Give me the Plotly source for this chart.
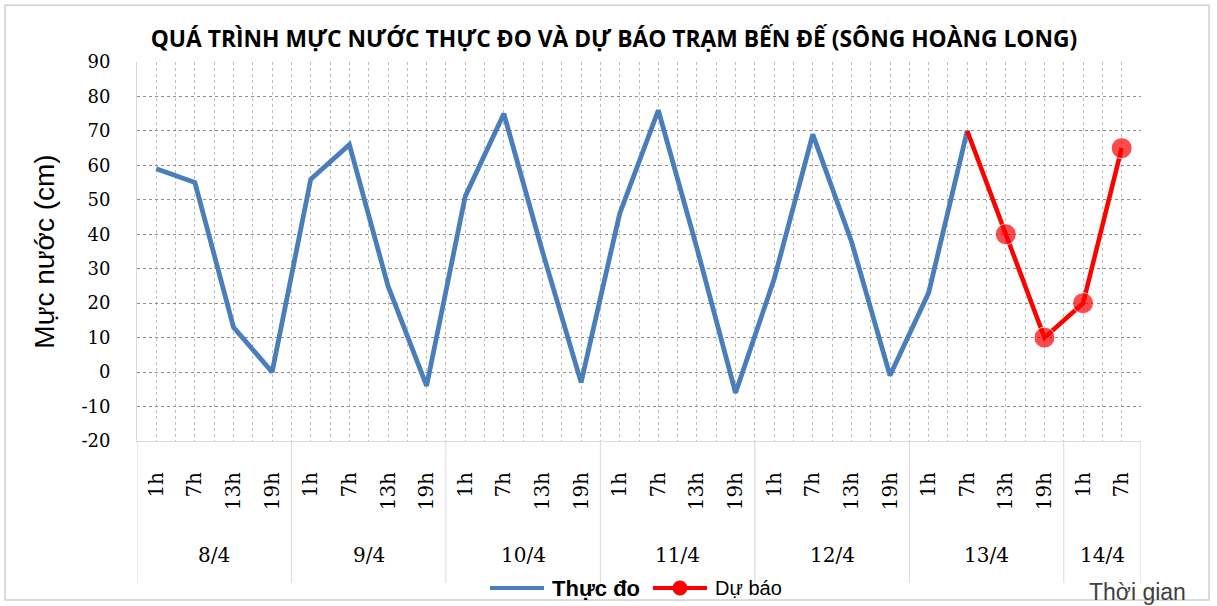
import plotly.graph_objects as go

hours = ["1h", "7h", "13h", "19h"] * 6 + ["1h", "7h"]
days = ["8/4", "9/4", "10/4", "11/4", "12/4", "13/4", "14/4"]
day_counts = [4, 4, 4, 4, 4, 4, 2]

thuc_do = [59, 55, 13, 0,
           56, 66, 25, -4,
           51, 75, 35, -3,
           46, 76, 36, -6,
           27, 69, 38, -1,
           23, 70]
du_bao_idx = [21, 22, 23, 24, 25]
du_bao = [70, 40, 10, 20, 65]

y_ticks = [-20, -10, 0, 10, 20, 30, 40, 50, 60, 70, 80, 90]
y_ticktext = [str(v) for v in y_ticks]

BLUE = "#4A7EBB"
RED = "#FF0000"

x_all = list(range(len(hours)))

fig = go.Figure()
fig.add_trace(go.Scatter(
    x=x_all[:len(thuc_do)], y=thuc_do, mode="lines", name="Thực đo",
    line=dict(color=BLUE, width=4.8), hoverinfo="skip"))
fig.add_trace(go.Scatter(
    x=du_bao_idx, y=du_bao, mode="lines+markers", name="Dự báo",
    line=dict(color=RED, width=4.5),
    marker=dict(size=[0, 21, 21, 21, 21], color=RED), hoverinfo="skip"))

shapes = []
annotations = []

# group dividers and day labels
pos = -0.5
for d, c in zip(days, day_counts):
    shapes.append(dict(type="line", xref="x", yref="paper", x0=pos, x1=pos,
                       y0=0, y1=-0.375, line=dict(color="#D9D9D9", width=1)))
    annotations.append(dict(x=pos + c / 2, y=-0.30, xref="x", yref="paper",
                            xanchor="center", yanchor="middle",
                            text=d, showarrow=False,
                            font=dict(family="DejaVu Serif", size=20, color="#000")))
    pos += c
shapes.append(dict(type="line", xref="x", yref="paper", x0=pos, x1=pos,
                   y0=0, y1=-0.375, line=dict(color="#D9D9D9", width=1)))

# outer chart border
shapes.append(dict(type="rect", xref="paper", yref="paper",
                   x0=-0.1315, x1=1.0677, y0=-0.4195, y1=1.150,
                   line=dict(color="#D0D0D0", width=1.5), layer="below"))

# legend (drawn by hand so it does not push the plot margins)
LY = -0.388
shapes.append(dict(type="line", xref="paper", yref="paper", x0=0.3516, x1=0.4054,
                   y0=LY, y1=LY, line=dict(color=BLUE, width=4)))
annotations.append(dict(x=0.4114, y=LY, xref="paper", yref="paper",
                        xanchor="left", yanchor="middle", text="<b>Thực đo</b>",
                        showarrow=False,
                        font=dict(family="Liberation Sans", size=22, color="#000")))
shapes.append(dict(type="line", xref="paper", yref="paper", x0=0.5139, x1=0.5677,
                   y0=LY, y1=LY, line=dict(color=RED, width=4)))
shapes.append(dict(type="circle", xref="paper", yref="paper",
                   xsizemode="pixel", ysizemode="pixel",
                   xanchor=0.5408, yanchor=LY, x0=-7.5, x1=7.5, y0=-7.5, y1=7.5,
                   fillcolor=RED, line=dict(color=RED, width=0)))
annotations.append(dict(x=0.5737, y=LY, xref="paper", yref="paper",
                        xanchor="left", yanchor="middle", text="Dự báo",
                        showarrow=False,
                        font=dict(family="Liberation Sans", size=20, color="#000")))

annotations.append(dict(x=1.0468, y=-0.398, xref="paper", yref="paper",
                        xanchor="right", yanchor="middle", text="Thời gian",
                        showarrow=False,
                        font=dict(family="Liberation Sans", size=23, color="#404040")))

fig.update_layout(
    width=1217, height=606,
    margin=dict(l=137, r=76, t=62, b=165),
    paper_bgcolor="white", plot_bgcolor="white",
    title=dict(text="<b>QUÁ TRÌNH MỰC NƯỚC THỰC ĐO VÀ DỰ BÁO TRẠM BẾN ĐẾ (SÔNG HOÀNG LONG)</b>",
               x=0.5045, xanchor="center", y=0.935, yanchor="middle",
               font=dict(family="Open Sans", size=22.8, color="#000")),
    showlegend=False,
    shapes=shapes, annotations=annotations,
)
fig.update_xaxes(
    automargin=False,
    range=[-0.5, len(hours) - 0.5],
    tickmode="array", tickvals=x_all, ticktext=hours, tickangle=-90,
    tickfont=dict(family="DejaVu Serif", size=20, color="#000"),
    ticks="outside", ticklen=22, tickcolor="rgba(0,0,0,0)",
    showgrid=True, gridcolor="#BFBFBF", griddash="dot", gridwidth=1,
    minor=dict(tickmode="array", tickvals=[i + 0.5 for i in x_all],
               showgrid=True, gridcolor="#BFBFBF", griddash="dot", gridwidth=1),
    showline=True, linecolor="#D9D9D9", linewidth=1, zeroline=False,
)
fig.update_yaxes(
    automargin=False,
    range=[-20, 90], tickmode="array", tickvals=y_ticks, ticktext=y_ticktext,
    tickfont=dict(family="DejaVu Serif", size=18, color="#000"),
    ticks="", ticklabelstandoff=22,
    showgrid=True, gridcolor="#8C8C8C", griddash="dot", gridwidth=1,
    showline=True, linecolor="#D9D9D9", linewidth=1, zeroline=False,
    title=dict(text="Mực nước (cm)", standoff=18,
               font=dict(family="Liberation Sans", size=28, color="#000")),
)

fig.write_html("out.html", config={"displayModeBar": False},
               post_script="document.body.style.margin='0px';document.body.style.overflow='hidden';")
